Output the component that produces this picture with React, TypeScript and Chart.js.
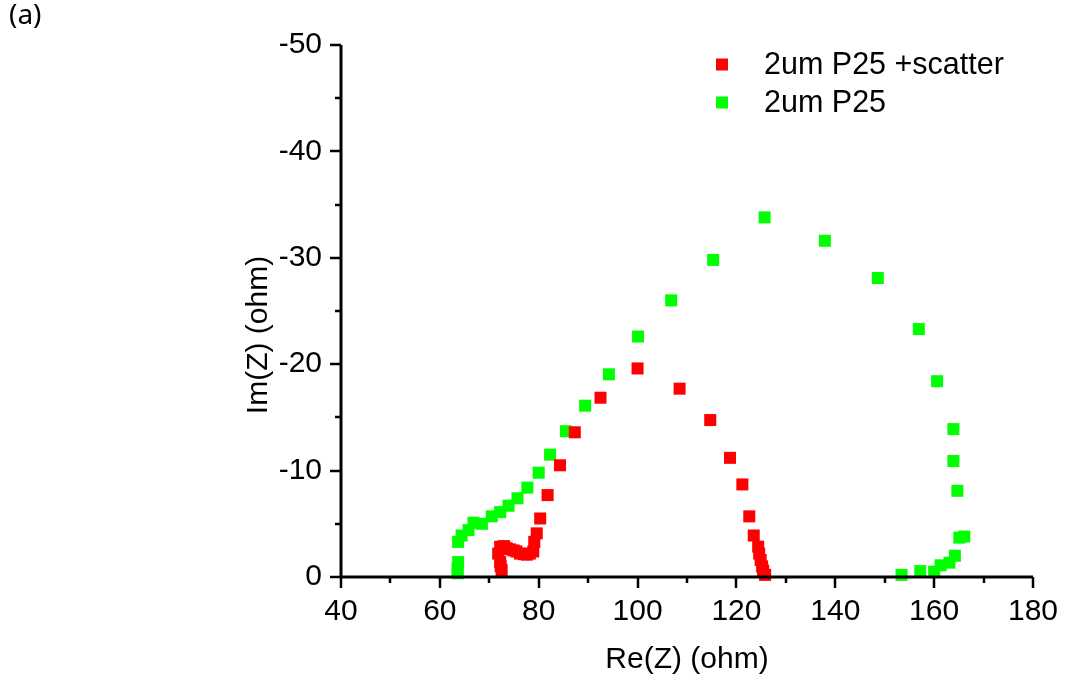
import React, { useEffect, useRef } from "react";
import { Chart, registerables } from "chart.js";

Chart.register(...registerables);

// ---- data ----
const seriesNames = ["2um P25 +scatter", "2um P25"];
const seriesColors = ["#FF0000", "#00FF00"];

const scatterRe = [72.5, 72.3, 72.2, 71.8, 72.2, 73.0, 73.5, 74.2, 74.9, 75.5, 76.2, 77.0, 77.6, 78.2, 78.9, 79.1, 79.6, 80.3, 81.8, 84.3, 87.3, 92.5, 100.0, 108.5, 114.7, 118.7, 121.2, 122.6, 123.5, 124.4, 124.6, 124.9, 125.2, 125.4, 125.8];
const scatterIm = [-0.65, -1.0, -1.4, -2.2, -2.85, -2.9, -2.7, -2.6, -2.5, -2.4, -2.2, -2.15, -2.1, -2.2, -2.4, -3.3, -4.1, -5.5, -7.7, -10.5, -13.6, -16.85, -19.6, -17.7, -14.75, -11.2, -8.7, -5.7, -3.9, -2.85, -2.2, -1.6, -1.0, -0.6, -0.2];

const plainRe = [63.6, 63.6, 63.7, 63.7, 64.4, 65.8, 66.8, 68.5, 70.5, 72.2, 73.9, 75.7, 77.7, 80.0, 82.3, 85.5, 89.4, 94.2, 100.1, 106.8, 115.3, 125.7, 137.9, 148.6, 156.9, 160.6, 163.9, 163.9, 164.7, 166.1, 165.1, 164.2, 163.1, 161.3, 160.0, 157.2, 153.4];
const plainIm = [-0.35, -0.8, -1.4, -3.3, -3.9, -4.4, -5.1, -5.0, -5.7, -6.1, -6.7, -7.4, -8.4, -9.8, -11.5, -13.7, -16.1, -19.05, -22.6, -26.0, -29.8, -33.8, -31.6, -28.1, -23.3, -18.4, -13.9, -10.9, -8.1, -3.8, -3.7, -2.0, -1.35, -1.1, -0.5, -0.55, -0.2];

const xTickValues = [40, 60, 80, 100, 120, 140, 160, 180];
const yTickValues = [-50, -40, -30, -20, -10, 0];
const xTitle = "Re(Z) (ohm)";
const yTitle = "Im(Z) (ohm)";
const panelLabel = "(a)";

const FONT = "'Liberation Sans', Arial, sans-serif";

const decorPlugin = {
  id: "decor",
  afterDraw(chart: any) {
    const { ctx, chartArea: a, scales } = chart;
    const xs = scales.x;
    const ys = scales.y;
    ctx.save();
    // axis lines
    ctx.strokeStyle = "#000";
    ctx.lineWidth = 3;
    ctx.beginPath();
    ctx.moveTo(a.left, a.top);
    ctx.lineTo(a.left, a.bottom + 1.5);
    ctx.moveTo(a.left - 1.5, a.bottom);
    ctx.lineTo(a.right, a.bottom);
    ctx.stroke();
    // ticks (major + minor)
    ctx.lineWidth = 2.5;
    ctx.beginPath();
    const xMinor = (xTickValues[1] - xTickValues[0]) / 2;
    for (let v = xTickValues[0]; v <= xTickValues[xTickValues.length - 1] + 1e-9; v += xMinor) {
      const px = Math.round(xs.getPixelForValue(v));
      const major = xTickValues.some((t) => Math.abs(t - v) < 1e-6);
      ctx.moveTo(px, a.bottom);
      ctx.lineTo(px, a.bottom + (major ? 11 : 6));
    }
    const yMinor = (yTickValues[1] - yTickValues[0]) / 2;
    for (let v = yTickValues[0]; v <= yTickValues[yTickValues.length - 1] + 1e-9; v += yMinor) {
      const py = Math.round(ys.getPixelForValue(v));
      const major = yTickValues.some((t) => Math.abs(t - v) < 1e-6);
      ctx.moveTo(a.left, py);
      ctx.lineTo(a.left - (major ? 11 : 6), py);
    }
    ctx.stroke();

    // y title
    ctx.fillStyle = "#000";
    ctx.font = `30px ${FONT}`;
    ctx.textAlign = "center";
    ctx.textBaseline = "middle";
    ctx.save();
    ctx.translate(259, 335);
    ctx.rotate(-Math.PI / 2);
    ctx.fillText(yTitle, 0, 0);
    ctx.restore();

    // legend
    const legendX = 722;
    const legendY = [64.5, 102.5];
    ctx.font = `30.5px ${FONT}`;
    ctx.textAlign = "left";
    chart.data.datasets.forEach((ds: any, i: number) => {
      ctx.fillStyle = ds.backgroundColor;
      ctx.fillRect(legendX - 6, legendY[i] - 6, 12, 12);
      ctx.fillStyle = "#000";
      ctx.fillText(ds.label, 764, legendY[i] + 1);
    });

    // panel label
    ctx.font = `28px 'Noto Sans', 'Open Sans', sans-serif`;
    ctx.textBaseline = "top";
    ctx.fillText(panelLabel, 9, 2);
    ctx.restore();
  },
};

export default function App() {
  const ref = useRef<HTMLCanvasElement | null>(null);
  useEffect(() => {
    if (!ref.current) return;
    const mk = (re: number[], im: number[]) => re.map((x, i) => ({ x, y: im[i] }));
    const chart = new Chart(ref.current, {
      type: "scatter",
      data: {
        datasets: [
          {
            label: seriesNames[0],
            data: mk(scatterRe, scatterIm),
            backgroundColor: seriesColors[0],
            borderColor: seriesColors[0],
            pointStyle: "rect",
            pointRadius: 8.5,
            pointBorderWidth: 0,
            clip: false,
          },
          {
            label: seriesNames[1],
            data: mk(plainRe, plainIm),
            backgroundColor: seriesColors[1],
            borderColor: seriesColors[1],
            pointStyle: "rect",
            pointRadius: 8.5,
            pointBorderWidth: 0,
            clip: false,
          },
        ],
      },
      options: {
        responsive: false,
        animation: false,
        layout: { padding: { left: 0, top: 45, right: 34, bottom: 0 } },
        plugins: {
          legend: { display: false },
          tooltip: { enabled: false },
        },
        scales: {
          x: {
            type: "linear",
            min: xTickValues[0],
            max: xTickValues[xTickValues.length - 1],
            afterBuildTicks: (s: any) => {
              s.ticks = xTickValues.map((v) => ({ value: v }));
            },
            afterFit: (s: any) => {
              s.height = 105;
              s.paddingLeft = 0;
              s.paddingRight = 0;
            },
            grid: { display: false, drawTicks: false },
            border: { display: false },
            ticks: {
              color: "#000",
              padding: 17,
              font: { family: FONT, size: 30 },
              maxRotation: 0,
            },
            title: {
              display: true,
              text: xTitle,
              color: "#000",
              font: { family: FONT, size: 30 },
              padding: { top: 0, bottom: 4 },
            },
          },
          y: {
            type: "linear",
            reverse: true,
            min: yTickValues[0],
            max: yTickValues[yTickValues.length - 1],
            afterBuildTicks: (s: any) => {
              s.ticks = yTickValues.map((v) => ({ value: v }));
            },
            afterFit: (s: any) => {
              s.width = 341;
              s.paddingTop = 0;
              s.paddingBottom = 0;
            },
            grid: { display: false, drawTicks: false },
            border: { display: false },
            ticks: {
              color: "#000",
              padding: 19,
              font: { family: FONT, size: 30 },
            },
          },
        },
      },
      plugins: [decorPlugin],
    });
    return () => chart.destroy();
  }, []);
  return (
    <div style={{ position: "absolute", left: 0, top: 0, width: 1067, height: 682, background: "#fff" }}>
      <canvas ref={ref} width={1067} height={682} style={{ display: "block" }} />
    </div>
  );
}
